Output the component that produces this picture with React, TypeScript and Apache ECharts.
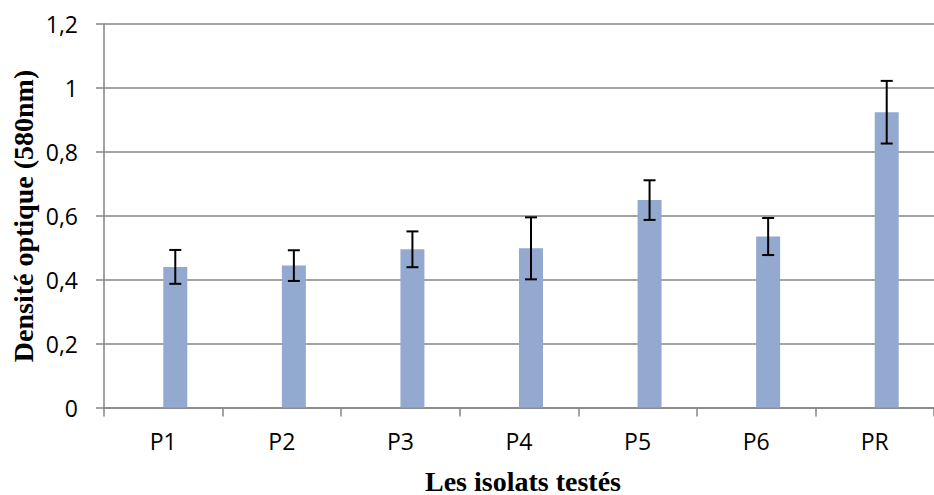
import React, { useEffect, useRef } from "react";
import * as echarts from "echarts";

const categories = ["P1", "P2", "P3", "P4", "P5", "P6", "PR"];
const means = [0.44, 0.444, 0.495, 0.498, 0.649, 0.535, 0.924];
const errors = [0.053, 0.048, 0.056, 0.097, 0.062, 0.058, 0.098];
const yTicks = [0, 0.2, 0.4, 0.6, 0.8, 1, 1.2];

const labelFont = "'Liberation Sans Narrow', 'Open Sans', sans-serif";

export default function App() {
  const ref = useRef<HTMLDivElement>(null);
  useEffect(() => {
    if (!ref.current) return;
    const chart = echarts.init(ref.current, null, { renderer: "svg" });
    const errData = means.map((m, i) => [i, m - errors[i], m + errors[i]]);
    chart.setOption({
      animation: false,
      backgroundColor: "#ffffff",
      grid: { left: 104, top: 24, width: 840, height: 383.5, containLabel: false },
      xAxis: {
        type: "category",
        data: categories,
        boundaryGap: true,
        axisLine: { lineStyle: { color: "#868686", width: 1.5 } },
        axisTick: { show: true, interval: 0, length: 9, lineStyle: { color: "#868686", width: 1.5 } },
        axisLabel: { color: "#000", fontFamily: labelFont, fontSize: 23, margin: 22, interval: 0 },
      },
      yAxis: {
        type: "value",
        min: 0,
        max: 1.2,
        interval: 0.2,
        axisLine: { show: true, lineStyle: { color: "#868686", width: 1.5 } },
        axisTick: { show: true, length: 8, lineStyle: { color: "#868686", width: 1.5 } },
        splitLine: { show: true, lineStyle: { color: "#868686", width: 1.5 } },
        axisLabel: {
          color: "#000",
          fontFamily: labelFont,
          fontSize: 23,
          margin: 26,
          formatter: (v: number) => {
            const t = yTicks.find((x) => Math.abs(x - v) < 1e-9);
            return String(t !== undefined ? t : v).replace(".", ",");
          },
        },
      },
      series: [
        { type: "bar", data: [], barWidth: 24, barGap: "0%" },
        {
          type: "bar",
          data: means,
          barWidth: 24,
          barGap: "0%",
          itemStyle: { color: "#94A9CF" },
        },
        {
          type: "custom",
          data: errData,
          encode: { x: 0, y: [1, 2] },
          z: 10,
          renderItem: (params: any, api: any) => {
            const lo = api.coord([api.value(0), api.value(1)]);
            const hi = api.coord([api.value(0), api.value(2)]);
            const x = lo[0] + 12;
            const hw = 6;
            const style = { stroke: "#000", lineWidth: 2 };
            return {
              type: "group",
              children: [
                { type: "line", shape: { x1: x, y1: lo[1], x2: x, y2: hi[1] }, style },
                { type: "line", shape: { x1: x - hw, y1: lo[1], x2: x + hw, y2: lo[1] }, style },
                { type: "line", shape: { x1: x - hw, y1: hi[1], x2: x + hw, y2: hi[1] }, style },
              ],
            };
          },
        },
      ],
      graphic: [
        {
          type: "text",
          x: 23,
          y: 216,
          rotation: Math.PI / 2,
          style: {
            text: "Densité optique (580nm)",
            fontFamily: "Liberation Serif",
            fontWeight: "bold",
            fontSize: 28,
            fill: "#000",
            align: "center",
            verticalAlign: "middle",
          },
        },
        {
          type: "text",
          x: 523,
          y: 481,
          style: {
            text: "Les isolats testés",
            fontFamily: "Liberation Serif",
            fontWeight: "bold",
            fontSize: 28,
            fill: "#000",
            align: "center",
            verticalAlign: "middle",
          },
        },
      ],
    });
    return () => chart.dispose();
  }, []);
  return <div ref={ref} style={{ width: 934, height: 495, position: "absolute", left: 0, top: 0 }} />;
}
